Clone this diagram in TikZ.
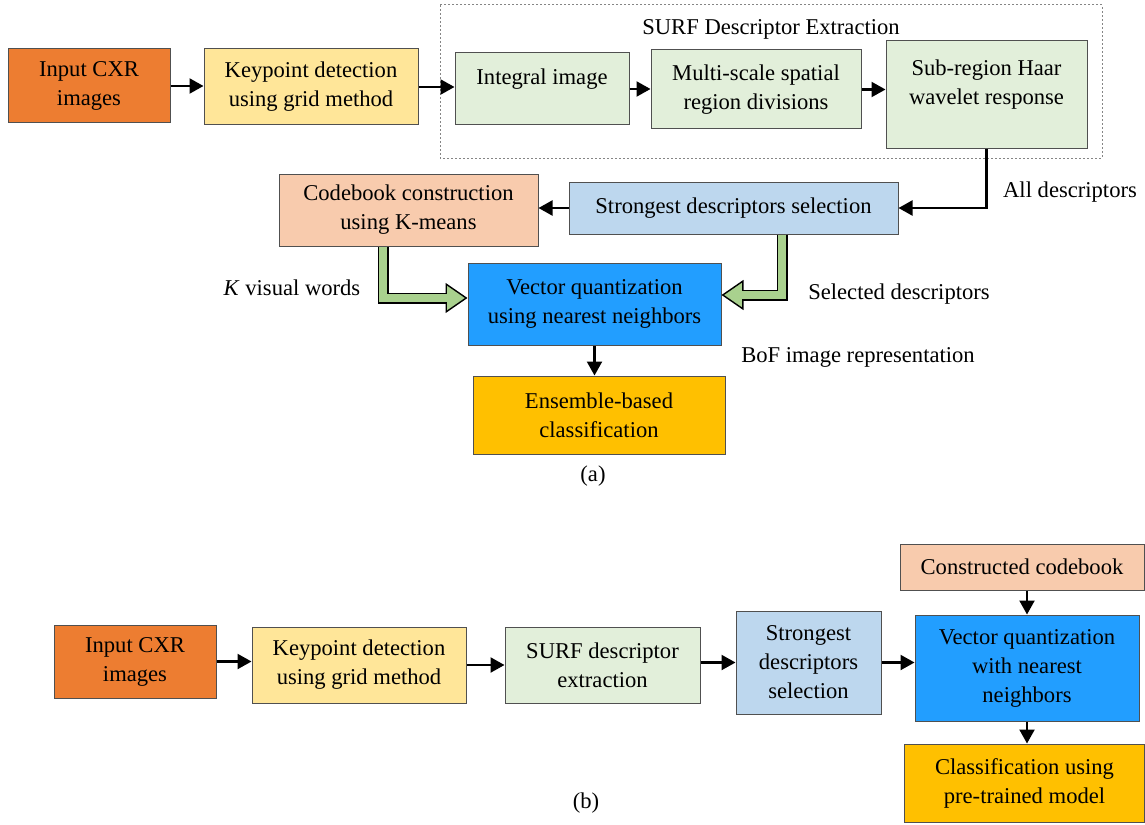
\documentclass[tikz,border=0pt]{standalone}
\usepackage{fontspec}
\setmainfont{Liberation Serif}
\usetikzlibrary{arrows.meta}

\definecolor{boxgray}{HTML}{505050}
\definecolor{inorange}{HTML}{ED7D31}
\definecolor{kpyellow}{HTML}{FFE699}
\definecolor{surfgreen}{HTML}{E2EFDA}
\definecolor{selblue}{HTML}{BDD7EE}
\definecolor{cbpeach}{HTML}{F8CBAD}
\definecolor{vqblue}{HTML}{229EFF}
\definecolor{clsgold}{HTML}{FFC000}
\definecolor{arrgreen}{HTML}{A9D18E}

\begin{document}
\begin{tikzpicture}[x=0.5pt, y=-0.5pt,
    every node/.style={font=\fontsize{11.3}{14.5}\selectfont},
    box/.style={draw=boxgray, line width=0.5pt, align=center, inner sep=0pt},
    arr/.style={line width=1.1pt, -{Triangle[length=7pt, width=7.5pt]}},
    fatline/.style={line width=5.5pt, -{Triangle[length=11pt, width=15pt, line width=0.7pt, fill=arrgreen]}},
    fatfill/.style={line width=4pt, arrgreen, shorten >=10pt}]
    \useasboundingbox (0,0) rectangle (1145,824);

    % (a) training pipeline
    \node[box, fill=inorange, minimum width=81pt, minimum height=37pt] (in1) at (89,86) {Input CXR\\images};
    \node[box, fill=kpyellow, minimum width=107pt, minimum height=38pt] (kp1) at (311,87) {Keypoint detection\\using grid method};
    \draw[boxgray!70, line width=0.5pt, dash pattern=on 1pt off 1pt] (440,5) rectangle (1102,158);
    \node (surftitle) at (771,29) {SURF Descriptor Extraction};
    \node[box, fill=surfgreen, minimum width=87pt, minimum height=36pt, text height=8pt, text depth=12pt] (ii) at (542,89) {Integral image};
    \node[box, fill=surfgreen, minimum width=105pt, minimum height=39.5pt] (ms) at (756,89.5) {Multi-scale spatial\\region divisions};
    \node[box, fill=surfgreen, minimum width=100.5pt, minimum height=53.5pt] (sub) at (986.5,94.5) {};
    \node[align=center, inner sep=0pt] (subtext) at (986.5,85) {Sub-region Haar\\wavelet response};
    \node[box, fill=selblue, minimum width=164.5pt, minimum height=26pt] (sds) at (733.5,208) {Strongest descriptors selection};
    \node[box, fill=cbpeach, minimum width=129.5pt, minimum height=36pt] (cb) at (408.5,210) {Codebook construction\\using K-means};
    \node[box, fill=vqblue, minimum width=126.5pt, minimum height=41pt] (vq1) at (594.5,304) {Vector quantization\\using nearest neighbors};
    \node[box, fill=clsgold, minimum width=126pt, minimum height=39pt] (ens) at (599,415) {Ensemble-based\\classification};

    \node (alldesc) at (1070,192) {All descriptors};
    \node (kwords) at (292,288) {\textit{K} visual words};
    \node (seldesc) at (899,294) {Selected descriptors};
    \node (bof) at (858,357) {BoF image representation};
    \node (capa) at (593,476) {(a)};

    \draw[arr] (in1.east) -- (in1.east -| kp1.west);
    \draw[arr] (kp1.east) -- (kp1.east -| ii.west);
    \draw[arr] (ii.east) -- (ii.east -| ms.west);
    \draw[arr] (ms.east) -- (ms.east -| sub.west);
    \draw[arr] (sub.south) |- (sds.east);
    \draw[arr] (sds.west) -- (sds.west -| cb.east);
    \draw[arr] (vq1.south) -- (vq1.south |- ens.north);

    % green arrows into the quantizer
    \draw[fatline] ([xshift=-12.75pt]cb.south) |- ([yshift=3pt]vq1.west);
    \draw[fatfill] ([xshift=-12.75pt]cb.south) |- ([yshift=3pt]vq1.west);
    \draw[fatline] ([xshift=24.25pt]sds.south) |- ([yshift=4.5pt]vq1.east);
    \draw[fatfill] ([xshift=24.25pt]sds.south) |- ([yshift=4.5pt]vq1.east);

    % (b) testing pipeline
    \node[box, fill=inorange, minimum width=81pt, minimum height=36.5pt] (in2) at (135,661.5) {Input CXR\\images};
    \node[box, fill=kpyellow, minimum width=107pt, minimum height=38pt] (kp2) at (359,665) {Keypoint detection\\using grid method};
    \node[box, fill=surfgreen, minimum width=97.5pt, minimum height=38pt] (surf2) at (602.5,665) {SURF descriptor\\extraction};
    \node[box, fill=selblue, minimum width=72.5pt, minimum height=51.5pt] (sds2) at (808.5,662.5) {Strongest\\descriptors\\selection};
    \node[box, fill=cbpeach, minimum width=122pt, minimum height=23pt] (ccb) at (1022,567) {Constructed codebook};
    \node[box, fill=vqblue, minimum width=112pt, minimum height=53pt] (vq2) at (1027,668) {Vector quantization\\with nearest\\neighbors};
    \node[box, fill=clsgold, minimum width=120pt, minimum height=39pt] (cls2) at (1024.5,783) {Classification using\\pre-trained model};
    \node (capb) at (586,803) {(b)};

    \draw[arr] (in2.east) -- (in2.east -| kp2.west);
    \draw[arr] (kp2.east) -- (kp2.east -| surf2.west);
    \draw[arr] (sds2.west -| surf2.east) -- (sds2.west);
    \draw[arr] (sds2.east) -- (sds2.east -| vq2.west);
    \draw[arr] (vq2.north |- ccb.south) -- (vq2.north);
    \draw[arr] (vq2.south) -- (vq2.south |- cls2.north);
\end{tikzpicture}
\end{document}
